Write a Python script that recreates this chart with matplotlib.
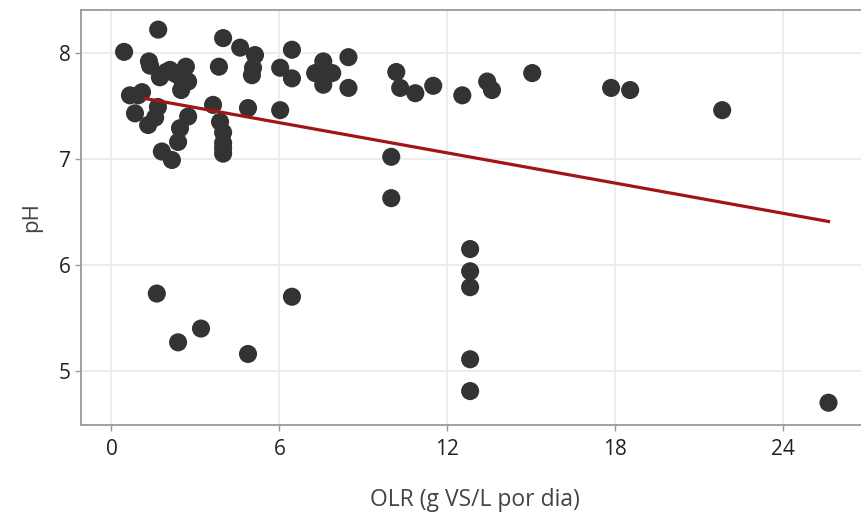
import matplotlib
matplotlib.use("Agg")
import matplotlib.pyplot as plt
import numpy as np

plt.rcParams['font.family'] = ['Open Sans', 'DejaVu Sans']

# OLR (g VS/L por dia) vs pH
olr = [0.45, 1.67, 1.34, 1.38, 1.73, 2.09, 2.66, 2.74, 2.49, 0.66,
       1.09, 0.95, 0.84, 1.31, 1.66, 1.56, 2.74, 2.45, 2.38, 1.80,
       2.16, 3.63, 3.88, 3.99, 3.99, 3.99, 3.99, 3.84, 3.99, 4.60,
       5.13, 5.06, 5.02, 4.88, 6.03, 6.45, 6.03, 6.45, 7.57, 7.28,
       7.89, 7.57, 8.47, 8.47, 10.18, 10.32, 10.86, 11.50, 12.54, 13.43,
       13.60, 15.04, 17.86, 18.54, 21.83, 10.0, 10.0, 1.62, 2.38, 3.20,
       4.88, 6.45, 12.82, 12.82, 12.82, 12.82, 12.82, 25.63, 2.30, 2.55,
       1.95]
ph = [8.01, 8.22, 7.92, 7.88, 7.77, 7.84, 7.87, 7.73, 7.65, 7.60,
      7.63, 7.60, 7.43, 7.32, 7.49, 7.39, 7.40, 7.29, 7.16, 7.07,
      6.99, 7.51, 7.35, 7.25, 7.15, 7.10, 7.05, 7.87, 8.14, 8.05,
      7.98, 7.86, 7.79, 7.48, 7.46, 8.03, 7.86, 7.76, 7.92, 7.81,
      7.81, 7.70, 7.96, 7.67, 7.82, 7.67, 7.62, 7.69, 7.60, 7.73,
      7.65, 7.81, 7.67, 7.65, 7.46, 7.02, 6.63, 5.73, 5.27, 5.40,
      5.16, 5.70, 6.15, 5.94, 5.79, 5.11, 4.81, 4.70, 7.80, 7.72,
      7.82]

# fitted trend line end points
fit_x = [1.2, 25.63]
fit_y = [7.57, 6.41]

x_ticks = [0, 6, 12, 18, 24]
y_ticks = [5, 6, 7, 8]

fig = plt.figure(figsize=(8.61, 5.15), dpi=100)
ax = fig.add_axes([81 / 861, 1 - 425 / 515, 1 - 81 / 861 + 0.01, (425 - 10) / 515])

ax.grid(True, color='#ebebeb', linewidth=1.3)
ax.set_axisbelow(True)

ax.scatter(olr, ph, s=170, color='#333333', edgecolors='none', zorder=3)
ax.plot(fit_x, fit_y, color='#a31515', linewidth=2.3, zorder=4)

ax.set_xlim(-1.09, 27.1)
ax.set_ylim(4.49, 8.405)
ax.set_xticks(x_ticks)
ax.set_yticks(y_ticks)

for side in ['top', 'left', 'bottom']:
    ax.spines[side].set_color('#9a9a9a')
    ax.spines[side].set_linewidth(1.3)
ax.spines['right'].set_visible(False)

ax.tick_params(colors='#9a9a9a', labelcolor='#222222', labelsize=15,
               length=4, width=1)
ax.tick_params(axis='x', pad=6)
ax.set_xlabel('OLR (g VS/L por dia)', fontsize=16.5, color='#444444', labelpad=20)
ax.set_ylabel('pH', fontsize=16, color='#444444', labelpad=12)

fig.savefig('out.png', dpi=100)
plt.close(fig)
